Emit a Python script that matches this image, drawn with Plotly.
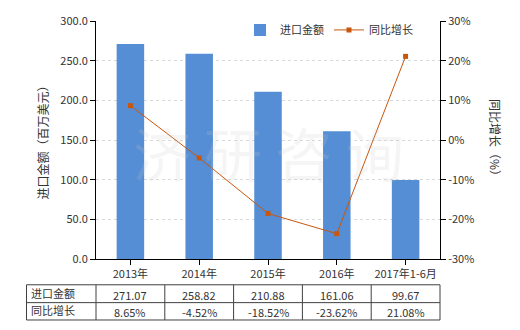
import plotly.graph_objects as go

categories = ["2013年", "2014年", "2015年", "2016年", "2017年1-6月"]
import_values = [271.07, 258.82, 210.88, 161.06, 99.67]
growth_values = [8.65, -4.52, -18.52, -23.62, 21.08]
row_labels = ["进口金额", "同比增长"]
left_ticks = [0, 50, 100, 150, 200, 250, 300]
right_ticks = [-30, -20, -10, 0, 10, 20, 30]

FONT = "Noto Sans CJK SC, Microsoft YaHei, sans-serif"
TXT = "#333333"
BAR = "#558ED5"
LINE = "#C8560C"

W, H = 520, 330
L, R, T, B = 96, 80, 19, 71
pw, ph = W - L - R, H - T - B

def px_to_px(x):  # pixel -> paper x
    return (x - L) / pw

def py_to_py(y):  # pixel -> paper y
    return (H - B - y) / ph

fig = go.Figure()
fig.add_trace(go.Bar(
    x=categories, y=import_values, name="进口金额",
    marker=dict(color=BAR, line=dict(width=0)), yaxis="y",
))
fig.add_trace(go.Scatter(
    x=categories, y=growth_values, name="同比增长", yaxis="y2",
    mode="lines+markers",
    line=dict(color=LINE, width=1),
    marker=dict(symbol="square", size=5, color=LINE),
))

fig.update_layout(
    width=W, height=H,
    margin=dict(l=L, r=R, t=T, b=B),
    paper_bgcolor="white", plot_bgcolor="white",
    font=dict(family=FONT, size=11, color=TXT),
    bargap=0.6,
    showlegend=True,
    legend=dict(orientation="h", x=px_to_px(240), y=py_to_py(28), xanchor="left", yanchor="middle",
                font=dict(size=11, color=TXT), bgcolor="rgba(0,0,0,0)",
                itemwidth=30, tracegroupgap=0),
    xaxis=dict(
        showline=True, linecolor="#000000", linewidth=1,
        ticks="outside", ticklen=5, tickcolor="#000000",
        tickfont=dict(size=11, color=TXT), showgrid=False,
    ),
    yaxis=dict(
        range=[0, 300], tickvals=left_ticks,
        ticktext=[f"{v:.1f}" for v in left_ticks],
        showline=True, linecolor="#000000", linewidth=1,
        ticks="outside", ticklen=5, tickcolor="#000000",
        showgrid=True, gridcolor="#D9D9D9", griddash="dot", gridwidth=1,
        zeroline=False, tickfont=dict(size=11, color=TXT),
    ),
    yaxis2=dict(
        range=[-30, 30], tickvals=right_ticks,
        ticktext=[f"{v}%" for v in right_ticks],
        overlaying="y", side="right",
        showline=True, linecolor="#000000", linewidth=1,
        ticks="outside", ticklen=5, tickcolor="#000000",
        showgrid=False, zeroline=False, tickfont=dict(size=11, color=TXT),
    ),
)

annotations = []
shapes = []

# axis titles
annotations.append(dict(text="进口金额（百万美元）", xref="paper", yref="paper",
                        x=px_to_px(31), y=0.5, showarrow=False, textangle=-90,
                        font=dict(size=12, color=TXT)))
annotations.append(dict(text="同比增长（%）", xref="paper", yref="paper",
                        x=px_to_px(496), y=0.5, xanchor="center", showarrow=False, textangle=90,
                        font=dict(size=12, color=TXT)))

# watermark
annotations.append(dict(text="济 研 咨 询", xref="paper", yref="paper",
                        x=0.5, y=0.45, showarrow=False,
                        font=dict(size=58, color="rgba(200,200,200,0.18)")))

# data table
tbl_left, tbl_top, tbl_mid, tbl_bot = 26.5, 285, 303, 320.5
col_edges = [tbl_left] + [L + pw * i / len(categories) for i in range(len(categories) + 1)]
for yy in (tbl_top, tbl_mid, tbl_bot):
    shapes.append(dict(type="line", xref="paper", yref="paper",
                       x0=px_to_px(tbl_left), x1=1, y0=py_to_py(yy), y1=py_to_py(yy),
                       line=dict(color="#404040", width=1)))
for xx in col_edges:
    shapes.append(dict(type="line", xref="paper", yref="paper",
                       x0=px_to_px(xx), x1=px_to_px(xx), y0=py_to_py(tbl_top), y1=py_to_py(tbl_bot),
                       line=dict(color="#404040", width=1)))

row_centers = [(tbl_top + tbl_mid) / 2, (tbl_mid + tbl_bot) / 2]
row_texts = [[f"{v:.2f}" for v in import_values], [f"{v:.2f}%" for v in growth_values]]
for r, label in enumerate(row_labels):
    annotations.append(dict(text=label, xref="paper", yref="paper",
                            x=px_to_px(tbl_left + 2), y=py_to_py(row_centers[r] - 1),
                            xanchor="left", yanchor="middle", showarrow=False,
                            font=dict(size=11, color=TXT)))
    for i, t in enumerate(row_texts[r]):
        annotations.append(dict(text=t, xref="paper", yref="paper",
                                x=(i + 0.5) / len(categories), y=py_to_py(row_centers[r] + 1),
                                xanchor="center", yanchor="middle", showarrow=False,
                                font=dict(size=11, color=TXT)))

fig.update_layout(annotations=annotations, shapes=shapes)
fig.write_html("out.html")
